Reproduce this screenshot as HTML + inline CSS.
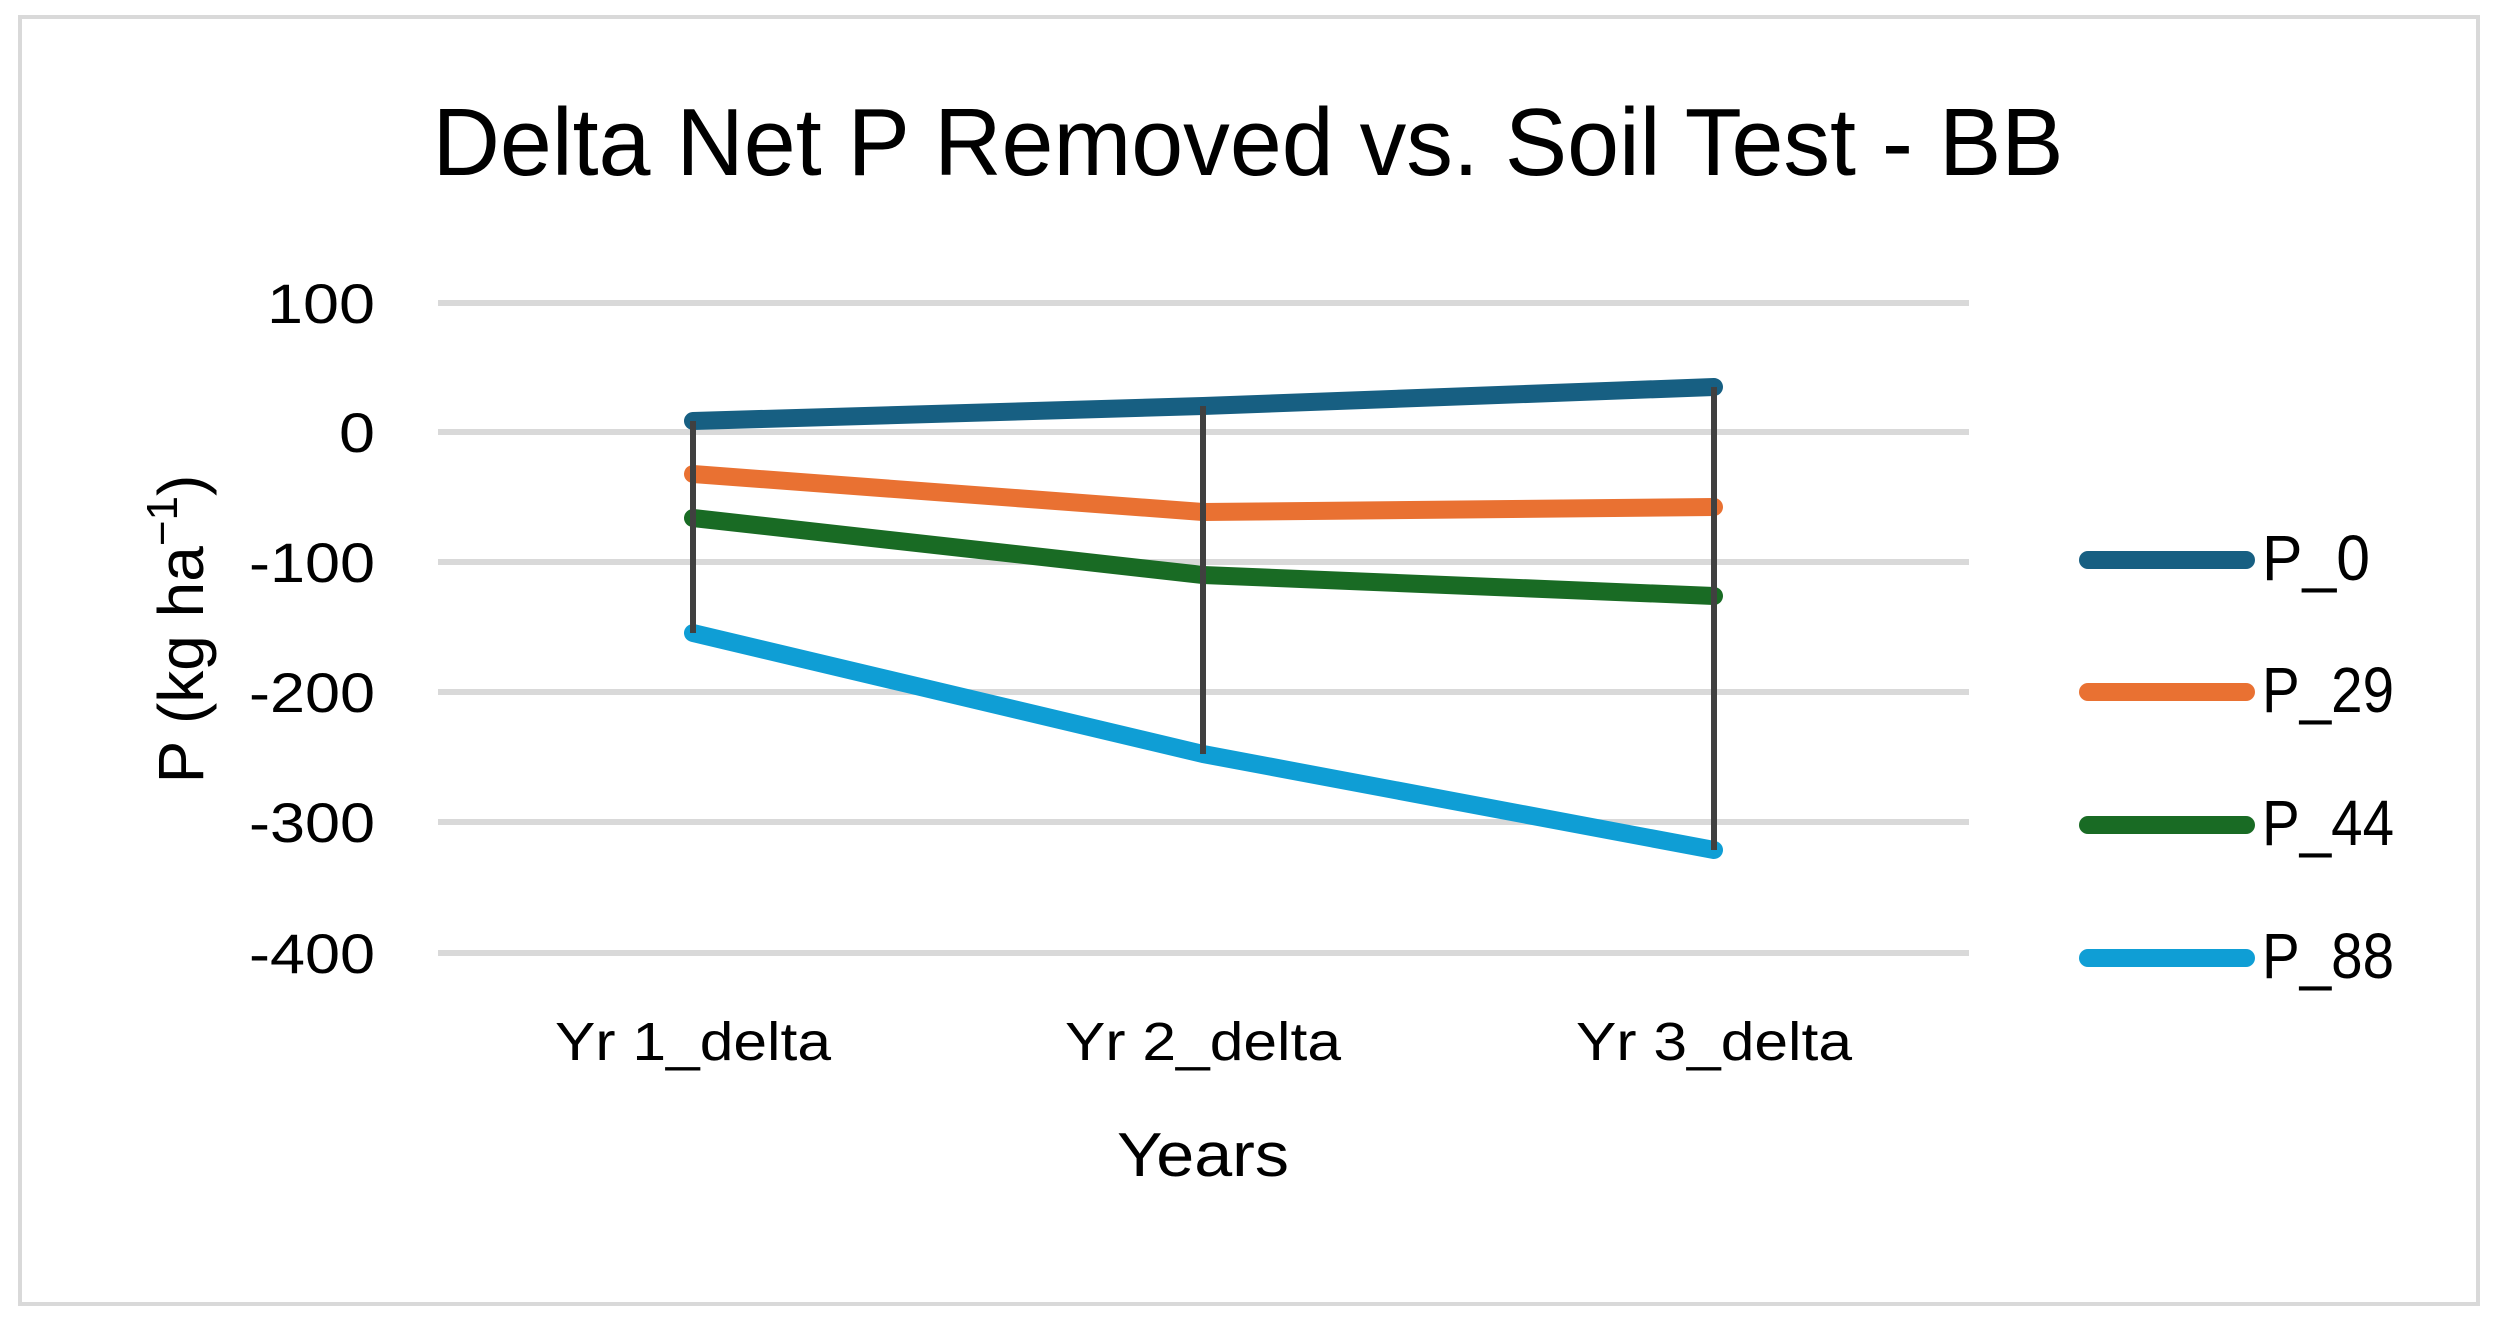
<!DOCTYPE html>
<html><head><meta charset="utf-8"><style>
html,body{margin:0;padding:0;background:#fff;}
svg{display:block;}
text{font-family:"Liberation Sans",sans-serif;fill:#000;}
</style></head><body>
<svg width="2499" height="1323" viewBox="0 0 2499 1323" xmlns="http://www.w3.org/2000/svg">
<rect x="0" y="0" width="2499" height="1323" fill="#fff"/>
<rect x="20" y="17" width="2458" height="1287" fill="none" stroke="#d9d9d9" stroke-width="4"/>
<text x="1248" y="175" font-size="96" text-anchor="middle" textLength="1631" lengthAdjust="spacingAndGlyphs">Delta Net P Removed vs. Soil Test - BB</text>
<g stroke="#d9d9d9" stroke-width="6">
<line x1="438" y1="303" x2="1969" y2="303"/>
<line x1="438" y1="432" x2="1969" y2="432"/>
<line x1="438" y1="562" x2="1969" y2="562"/>
<line x1="438" y1="692" x2="1969" y2="692"/>
<line x1="438" y1="822" x2="1969" y2="822"/>
<line x1="438" y1="953" x2="1969" y2="953"/>
</g>
<g font-size="56" text-anchor="end">
<text x="375" y="323" textLength="108" lengthAdjust="spacingAndGlyphs">100</text>
<text x="375" y="452" textLength="36" lengthAdjust="spacingAndGlyphs">0</text>
<text x="375" y="582" textLength="126" lengthAdjust="spacingAndGlyphs">-100</text>
<text x="375" y="712" textLength="126" lengthAdjust="spacingAndGlyphs">-200</text>
<text x="375" y="842" textLength="126" lengthAdjust="spacingAndGlyphs">-300</text>
<text x="375" y="973" textLength="126" lengthAdjust="spacingAndGlyphs">-400</text>
</g>
<text transform="translate(203,629) rotate(-90)" font-size="64" text-anchor="middle">P (kg ha<tspan dy="-26" font-size="44">−1</tspan><tspan dy="26">)</tspan></text>
<g fill="none" stroke-width="18" stroke-linecap="round" stroke-linejoin="round">
<polyline stroke="#175f82" points="693,421 1203,406 1714,387"/>
<polyline stroke="#e97132" points="693,474 1203,512 1714,507"/>
<polyline stroke="#196b24" points="693,518 1203,575 1714,596"/>
<polyline stroke="#0f9ed5" points="693,633 1203,754 1714,850"/>
</g>
<g stroke="#404040" stroke-width="6">
<line x1="693" y1="421" x2="693" y2="633"/>
<line x1="1203" y1="406" x2="1203" y2="754"/>
<line x1="1714" y1="387" x2="1714" y2="850"/>
</g>
<g font-size="54" text-anchor="middle">
<text x="693" y="1060" textLength="276" lengthAdjust="spacingAndGlyphs">Yr 1_delta</text>
<text x="1203" y="1060" textLength="276" lengthAdjust="spacingAndGlyphs">Yr 2_delta</text>
<text x="1714" y="1060" textLength="276" lengthAdjust="spacingAndGlyphs">Yr 3_delta</text>
</g>
<text x="1203" y="1176" font-size="62" text-anchor="middle" textLength="172" lengthAdjust="spacingAndGlyphs">Years</text>
<g stroke-width="18" stroke-linecap="round">
<line x1="2088" y1="560" x2="2246" y2="560" stroke="#175f82"/>
<line x1="2088" y1="692" x2="2246" y2="692" stroke="#e97132"/>
<line x1="2088" y1="825" x2="2246" y2="825" stroke="#196b24"/>
<line x1="2088" y1="958" x2="2246" y2="958" stroke="#0f9ed5"/>
</g>
<g font-size="64">
<text x="2262" y="580" textLength="108" lengthAdjust="spacingAndGlyphs">P_0</text>
<text x="2262" y="712" textLength="132" lengthAdjust="spacingAndGlyphs">P_29</text>
<text x="2262" y="845" textLength="132" lengthAdjust="spacingAndGlyphs">P_44</text>
<text x="2262" y="978" textLength="132" lengthAdjust="spacingAndGlyphs">P_88</text>
</g>
</svg>
</body></html>
